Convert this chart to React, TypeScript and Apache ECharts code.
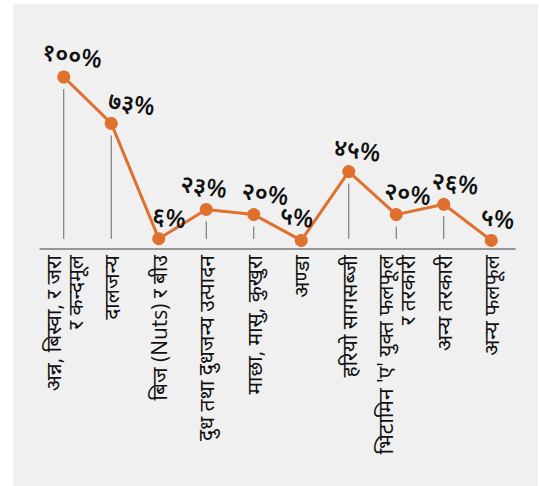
import React, { useEffect, useRef } from "react";
import * as echarts from "echarts";

const categories = [
  "अन्न, बिस्वा, र जरा\nर कन्दमूल",
  "दालजन्य",
  "बिज (Nuts) र बीउ",
  "दुध तथा दुधजन्य उत्पादन",
  "माछा, मासु, कुखुरा",
  "अण्डा",
  "हरियो सागसब्जी",
  "भिटामिन 'ए' युक्त फलफूल\nर तरकारी",
  "अन्य तरकारी",
  "अन्य फलफूल",
];

const values = [100, 73, 6, 23, 20, 5, 45, 20, 26, 5];

const valueLabels = ["१००%", "७३%", "६%", "२३%", "२०%", "५%", "४५%", "२०%", "२६%", "५%"];

// horizontal nudges of the value labels (px)
const labelNudge = [7, 19, 9, -4, 10, -6, 7, 10, 10, 5];

const ORANGE = "#e0702e";
const FONT = "'Open Sans', 'Noto Sans', sans-serif";

export default function App() {
  const ref = useRef<HTMLDivElement>(null);

  useEffect(() => {
    if (!ref.current) return;
    const chart = echarts.init(ref.current, null, { renderer: "svg" });

    const lineData = values.map((v, i) => ({
      value: v,
      label: { offset: [labelNudge[i], 0] },
    }));

    chart.setOption({
      animation: false,
      backgroundColor: "#ffffff",
      graphic: [
        {
          type: "rect",
          z: -10,
          shape: { x: 13, y: 4, width: 525, height: 482 },
          style: { fill: "#f0f0f0" },
          silent: true,
        },
      ],
      grid: { left: 40, right: 24, top: 77, bottom: 237, containLabel: false },
      xAxis: {
        type: "category",
        data: categories,
        boundaryGap: true,
        axisLine: { show: true, lineStyle: { color: "#777777", width: 1.5 } },
        axisTick: { show: false },
        axisLabel: {
          rotate: 90,
          interval: 0,
          margin: 6,
          color: "#111111",
          fontSize: 21,
          lineHeight: 22,
          fontFamily: FONT,
        },
      },
      yAxis: {
        type: "value",
        min: 0,
        max: 100,
        show: false,
        splitLine: { show: false },
      },
      series: [
        {
          type: "custom",
          z: 1,
          silent: true,
          data: values.map((v, i) => [i, v]),
          renderItem: (params: any, api: any) => {
            const i = api.value(0);
            const v = api.value(1);
            const top = api.coord([i, v]);
            const bottom = api.coord([i, 0]);
            const y1 = top[1] + 12;
            const y2 = bottom[1] - 10;
            if (y2 - y1 < 4) return { type: "group", children: [] };
            return {
              type: "line",
              shape: { x1: top[0], y1, x2: top[0], y2 },
              style: { stroke: "#666666", lineWidth: 1 },
            };
          },
        },
        {
          type: "line",
          z: 3,
          data: lineData,
          symbol: "circle",
          symbolSize: 13,
          lineStyle: { color: ORANGE, width: 3 },
          itemStyle: { color: ORANGE },
          label: {
            show: true,
            position: "top",
            distance: 5,
            rotate: -8,
            color: "#111111",
            fontSize: 24,
            fontWeight: 600,
            fontFamily: FONT,
            formatter: (p: any) => valueLabels[p.dataIndex],
          },
        },
      ],
    });

    return () => chart.dispose();
  }, []);

  return (
    <div
      ref={ref}
      style={{ position: "fixed", left: 0, top: 0, width: 539, height: 486 }}
    />
  );
}
